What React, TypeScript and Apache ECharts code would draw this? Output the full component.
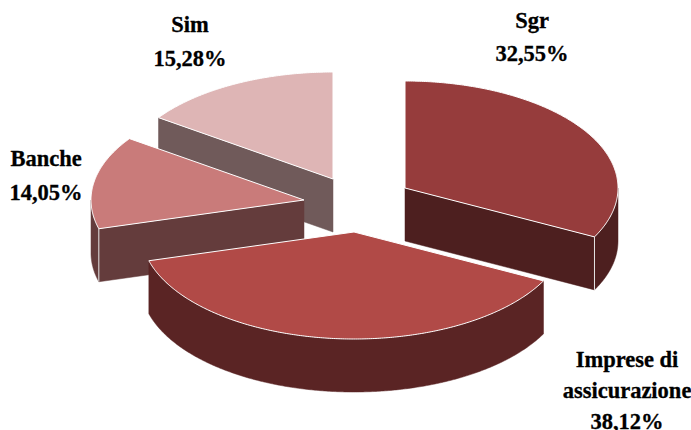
import React, { useEffect, useRef } from "react";
import * as echarts from "echarts";

// Data, in clockwise order from 12 o'clock
const categories = ["Sgr", "Imprese di\nassicurazione", "Banche", "Sim"];
const shares = [32.55, 38.12, 14.05, 15.28];

// Styles and layout
const topColors = ["#963c3c", "#b14a47", "#c97b7a", "#deb5b5"];
const wallColors = ["#4d1f1f", "#5a2424", "#643c3c", "#705a5a"];
const apexX = [405, 354, 304, 333];
const apexY = [188, 232, 200, 179];
const drawOrder = [3, 2, 0, 1];
const labelX = [532, 627, 46, 190];
const labelY = [4, 344, 141, 7];
const labelLine = [33, 31, 34, 34];
const RX = 213;
const RY = 107;
const DEPTH = 53;
const FONT = "Liberation Serif";

const total = shares.reduce((a, b) => a + b, 0);
const formatShare = (v: number) => v.toFixed(2).replace(".", ",") + "%";

function arc(cx: number, cy: number, a0: number, a1: number): number[][] {
  const pts: number[][] = [];
  const n = Math.max(2, Math.ceil(Math.abs(a1 - a0) / 0.5));
  for (let i = 0; i <= n; i++) {
    const a = ((a0 + ((a1 - a0) * i) / n) * Math.PI) / 180;
    pts.push([cx + RX * Math.sin(a), cy - RY * Math.cos(a)]);
  }
  return pts;
}

function rows(): number[][] {
  let acc = 0;
  const out: number[][] = shares.map((v, i) => {
    const start = (acc / total) * 360;
    acc += v;
    return [v, start, (acc / total) * 360, i];
  });
  return drawOrder.map((i) => out[i]);
}

function renderItem(_params: any, api: any) {
  const start = api.value(1) as number;
  const end = api.value(2) as number;
  const idx = api.value(3) as number;
  const cx = apexX[idx];
  const cy = apexY[idx];
  const children: any[] = [];
  const wallStyle = { fill: wallColors[idx], stroke: wallColors[idx], lineWidth: 0.5 };
  const corner = (a: number) => {
    const [p] = arc(cx, cy, a, a);
    return [p[0], p[1]];
  };
  const radial = (a: number) => {
    const p = corner(a);
    children.push({
      type: "polygon",
      shape: { points: [[cx, cy], p, [p[0], p[1] + DEPTH], [cx, cy + DEPTH]] },
      style: wallStyle,
    });
  };
  const endRad = (end * Math.PI) / 180;
  const startRad = (start * Math.PI) / 180;
  if (Math.sin(startRad) < -1e-6) radial(start);
  if (Math.sin(endRad) > 1e-6) radial(end);
  // outer wall: only the front half of the rim can be seen
  const w0 = Math.max(start, 90);
  const w1 = Math.min(end, 270);
  if (w1 > w0) {
    const rim = arc(cx, cy, w0, w1);
    const low = rim.map((p) => [p[0], p[1] + DEPTH]).reverse();
    children.push({ type: "polygon", shape: { points: rim.concat(low) }, style: wallStyle });
  }
  const cornerLine = (a: number) => {
    const p = corner(a);
    children.push({
      type: "line",
      shape: { x1: p[0], y1: p[1], x2: p[0], y2: p[1] + DEPTH },
      style: { stroke: "#e6e6e6", lineWidth: 1 },
    });
  };
  if (Math.sin(startRad) < -1e-6 && start > 180 && start < 270) cornerLine(start);
  if (Math.sin(endRad) > 1e-6 && end > 90) cornerLine(end);
  children.push({
    type: "polygon",
    shape: { points: [[cx, cy], ...arc(cx, cy, start, end)] },
    style: { fill: topColors[idx], stroke: "#ffffff", lineWidth: 1 },
  });
  return { type: "group", children };
}

export default function App() {
  const ref = useRef<HTMLDivElement>(null);
  useEffect(() => {
    const chart = echarts.init(ref.current!, undefined, { renderer: "svg" });
    chart.setOption({
      animation: false,
      backgroundColor: "#ffffff",
      series: [
        {
          type: "custom",
          coordinateSystem: "none",
          silent: true,
          data: rows(),
          renderItem,
        },
      ],
      graphic: categories.map((c, i) => ({
        type: "text",
        x: labelX[i],
        y: labelY[i],
        z: 10,
        style: {
          text: `${c}\n${formatShare(shares[i])}`,
          fontFamily: FONT,
          fontWeight: "bold",
          fontSize: 22.5,
          lineHeight: labelLine[i],
          fill: "#000000",
          stroke: "#000000",
          lineWidth: 0.3,
          textAlign: "center",
        },
      })),
    });
    return () => chart.dispose();
  }, []);
  return <div ref={ref} style={{ position: "fixed", left: 0, top: 0, width: 691, height: 430 }} />;
}
